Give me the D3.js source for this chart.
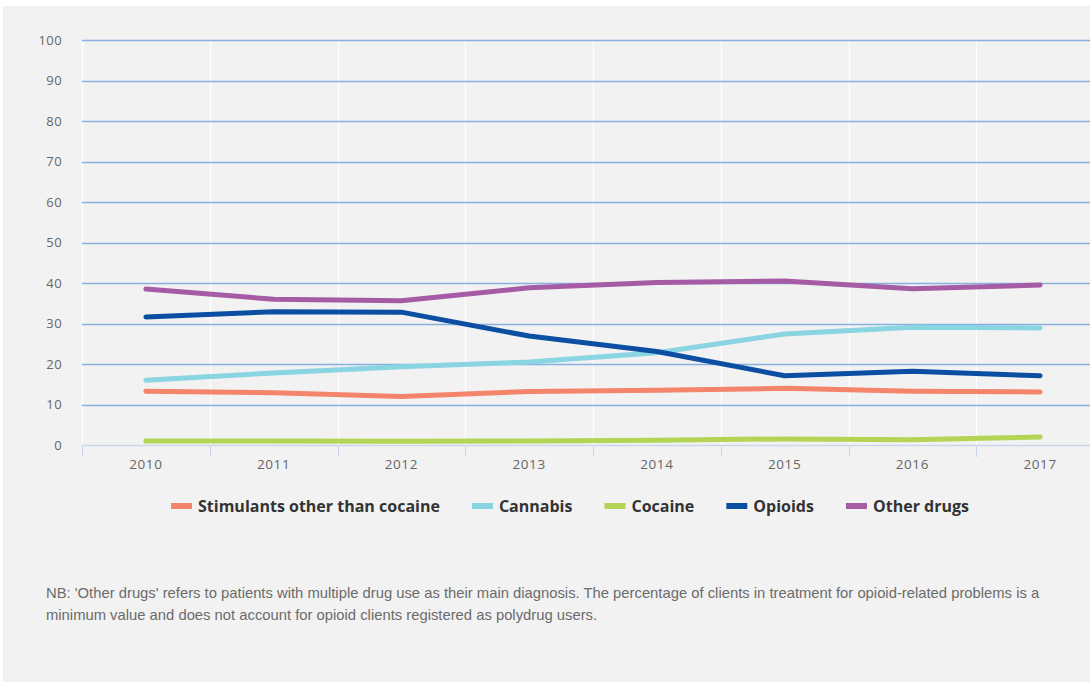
<!DOCTYPE html>
<html>
<head>
<meta charset="utf-8">
<script src="https://cdn.jsdelivr.net/npm/d3@7"></script>
<style>
  html, body { margin: 0; padding: 0; background: #ffffff; }
  svg { display: block; }
</style>
</head>
<body>
<svg id="chart" width="1090" height="682"></svg>
<script>
// Share of treatment clients by main drug, 2010–2017 (%)
const years = ["2010", "2011", "2012", "2013", "2014", "2015", "2016", "2017"];
const yTicks = [0, 10, 20, 30, 40, 50, 60, 70, 80, 90, 100];

const stimulants = [13.3, 12.9, 12.0, 13.2, 13.5, 14.0, 13.3, 13.1];
const cannabis   = [16.0, 17.8, 19.3, 20.5, 22.8, 27.4, 29.1, 28.9];
const cocaine    = [1.0, 1.0, 0.9, 1.0, 1.2, 1.5, 1.3, 2.0];
const opioids    = [31.6, 32.9, 32.8, 26.9, 23.1, 17.1, 18.2, 17.1];
const otherDrugs = [38.5, 36.0, 35.6, 38.8, 40.1, 40.5, 38.6, 39.5];

const seriesNames  = ["Stimulants other than cocaine", "Cannabis", "Cocaine", "Opioids", "Other drugs"];
const seriesColors = ["#f4846a", "#8ad5e2", "#b3d454", "#0b4ea2", "#a55ca5"];

const series = [stimulants, cannabis, cocaine, opioids, otherDrugs].map((values, i) => ({
  name: seriesNames[i], color: seriesColors[i], values
}));

const svg = d3.select("#chart");

// panel background
svg.append("rect").attr("x", 3).attr("y", 6).attr("width", 1087).attr("height", 676).attr("fill", "#f2f2f2");

const x = d3.scaleBand().domain(years).range([82, 82 + 8 * 127.75]).padding(0);
const y = d3.scaleLinear().domain([0, 100]).range([445, 40]);

// vertical white separators between categories
const bounds = years.map(d => x(d)).concat([x(years[years.length - 1]) + x.bandwidth()]);
svg.append("g").selectAll("line").data(bounds).join("line")
  .attr("x1", d => Math.round(d) + 0.5).attr("x2", d => Math.round(d) + 0.5)
  .attr("y1", 40).attr("y2", 445)
  .attr("stroke", "#ffffff").attr("stroke-width", 1.2);

// y axis labels
const yAxis = d3.axisLeft(y).tickValues(yTicks).tickSize(0).tickPadding(20);
const gy = svg.append("g").attr("transform", "translate(82,0)").call(yAxis);
gy.select(".domain").remove();
gy.selectAll("text").attr("font-family", "'Open Sans', sans-serif").attr("font-size", 13)
  .attr("fill", "#666666").attr("letter-spacing", "0.4px");

// horizontal grid
svg.append("g").selectAll("line").data(yTicks.filter(t => t > 0)).join("line")
  .attr("x1", 82).attr("x2", 1090)
  .attr("y1", d => Math.round(y(d)) + 0.5).attr("y2", d => Math.round(y(d)) + 0.5)
  .attr("stroke", "#88b0e0").attr("stroke-width", 1.5);

// x axis
const xAxis = d3.axisBottom(x).tickSize(0).tickPadding(14);
const gx = svg.append("g").attr("transform", "translate(0,445)").call(xAxis);
gx.select(".domain").remove();
gx.selectAll("text").attr("font-family", "'Open Sans', sans-serif").attr("font-size", 13.5)
  .attr("fill", "#666666").attr("letter-spacing", "0.6px");
svg.append("line").attr("x1", 82).attr("x2", 1090).attr("y1", 445.5).attr("y2", 445.5)
  .attr("stroke", "#ccd6eb").attr("stroke-width", 1.5);
svg.append("g").selectAll("line").data(bounds).join("line")
  .attr("x1", d => Math.round(d) + 0.5).attr("x2", d => Math.round(d) + 0.5)
  .attr("y1", 445).attr("y2", 457)
  .attr("stroke", "#ccd6eb").attr("stroke-width", 1);

// lines
const line = d3.line()
  .x((d, i) => x(years[i]) + x.bandwidth() / 2)
  .y(d => y(d));

svg.append("g").selectAll("path").data(series).join("path")
  .attr("d", d => line(d.values))
  .attr("fill", "none")
  .attr("stroke", d => d.color)
  .attr("stroke-width", 5)
  .attr("stroke-linecap", "round")
  .attr("stroke-linejoin", "round");

// legend
const legend = svg.append("g").attr("font-family", "'Open Sans', sans-serif")
  .attr("font-size", 16).attr("font-weight", "bold").attr("fill", "#333333");
const items = legend.selectAll("g").data(series).join("g");
items.append("rect").attr("width", 21).attr("height", 6).attr("y", -3)
  .attr("fill", d => d.color);
items.append("text").attr("x", 27).attr("y", 0).attr("dy", "0.35em").text(d => d.name);

const gap = 32;
let offset = 0;
const positions = [];
items.each(function () {
  positions.push(offset);
  offset += this.getBBox().width + gap;
});
const total = offset - gap;
const start = 570 - total / 2;
items.attr("transform", (d, i) => `translate(${start + positions[i]},${506})`);

// footnote
const note = svg.append("text").attr("font-family", "'Liberation Sans', Arial, sans-serif")
  .attr("font-size", 14.8).attr("fill", "#6b6b6b");
note.append("tspan").attr("x", 46).attr("y", 598)
  .text("NB: 'Other drugs' refers to patients with multiple drug use as their main diagnosis. The percentage of clients in treatment for opioid-related problems is a");
note.append("tspan").attr("x", 46).attr("y", 620)
  .text("minimum value and does not account for opioid clients registered as polydrug users.");
</script>
</body>
</html>
